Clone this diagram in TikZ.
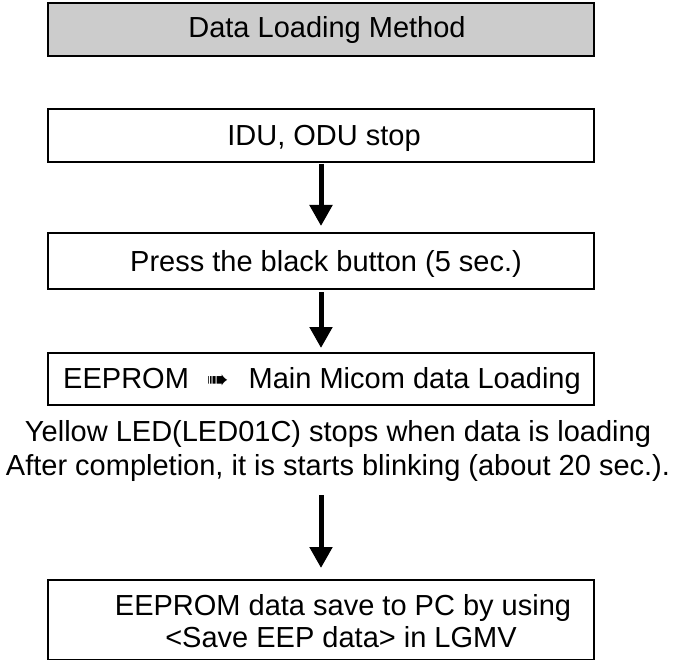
\documentclass[tikz,border=0pt]{standalone}
\usepackage{fontspec}
\setmainfont{Liberation Sans}
\newfontfamily\symfont{DejaVu Sans}
\usetikzlibrary{arrows.meta}
\begin{document}
\begin{tikzpicture}[x=1pt,y=-1pt,
  boxst/.style={draw=black,line width=2pt,inner sep=0pt,minimum width=546pt},
  txt/.style={font=\fontsize{29}{33}\selectfont,inner sep=0pt,anchor=base},
  flow/.style={line width=5pt,-{Triangle[width=22pt,length=21pt]}}]
\useasboundingbox (0,0) rectangle (677,660);
% boxes
\node[boxst,fill=black!20,minimum height=53pt] (b0) at (321,29.5) {};
\node[boxst,minimum height=53pt] (b1) at (321,135.5) {};
\node[boxst,minimum height=56pt] (b2) at (321,261) {};
\node[boxst,minimum height=52pt] (b3) at (321,379) {};
\node[boxst,minimum height=80pt] (b4) at (321,620) {};
% texts
\node[txt] (t0) at (327,38) {Data Loading Method};
\node[txt] (t1) at (324,146) {IDU, ODU stop};
\node[txt] (t2) at (326,272) {Press the black button (5 sec.)};
\node[txt] (t3) at (322,388) {EEPROM\hspace{18pt}{\symfont\fontsize{26}{26}\selectfont ➠}\hspace{20pt}Main Micom data Loading};
\node[txt] (t4a) at (338,441) {Yellow LED(LED01C) stops when data is loading};
\node[txt] (t4b) at (338,475) {After completion, it is starts blinking (about 20 sec.).};
\node[txt] (t5a) at (343,615) {EEPROM data save to PC by using};
\node[txt] (t5b) at (341,647) {<Save EEP data> in LGMV};
% arrows
\coordinate (a1s) at (321,164); \coordinate (a1e) at (321,226);
\coordinate (a2s) at (321,292); \coordinate (a2e) at (321,348);
\coordinate (a3s) at (321,495); \coordinate (a3e) at (321,568);
\draw[flow] (a1s) -- (a1e);
\draw[flow] (a2s) -- (a2e);
\draw[flow] (a3s) -- (a3e);
\end{tikzpicture}
\end{document}
